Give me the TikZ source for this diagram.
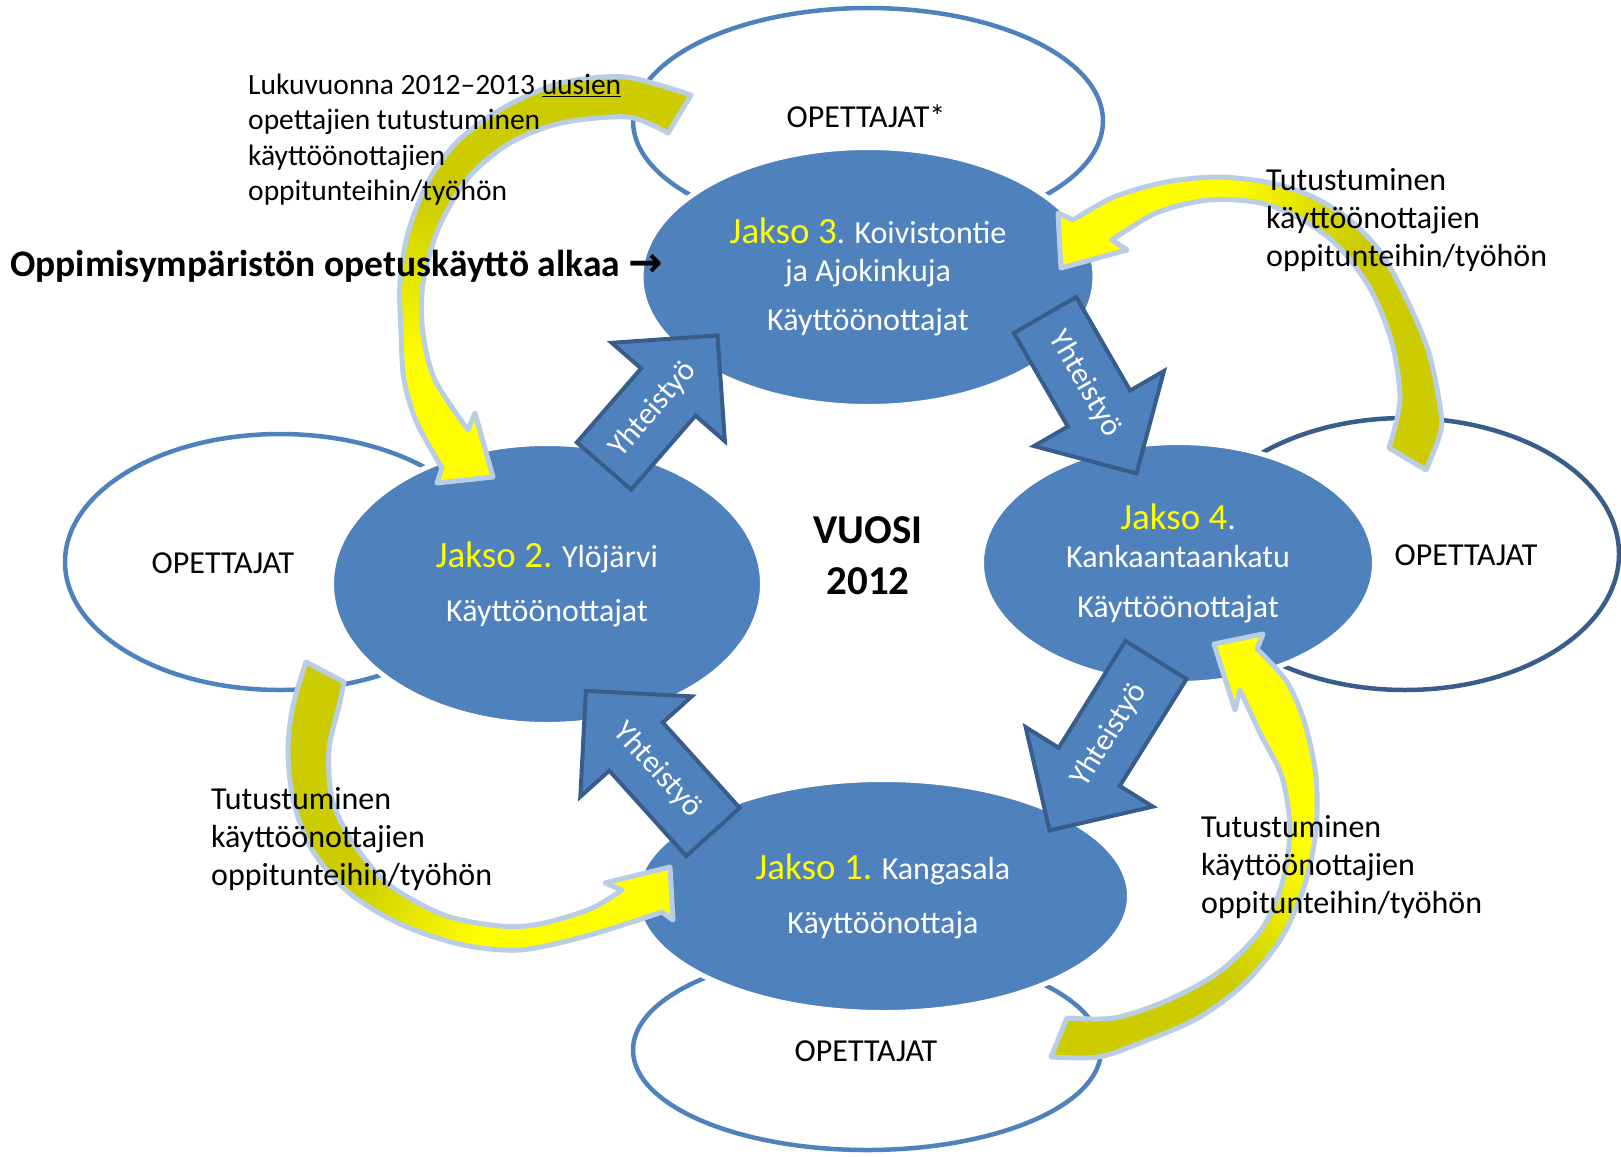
\documentclass[tikz,border=0pt]{standalone}
\usepackage{fontspec}
\setmainfont{Carlito}
\newfontfamily\arrowfont{DejaVu Sans}
\usetikzlibrary{shapes.geometric}

\definecolor{jblue}{HTML}{4F81BD}
\definecolor{coopline}{HTML}{385D8A}
\definecolor{bandolive}{HTML}{CCCC00}
\definecolor{bandyellow}{HTML}{FFFF00}
\definecolor{bandrim}{HTML}{B9CDE5}
\definecolor{jaksoyellow}{HTML}{FFFF00}

\pgfdeclareverticalshading{bandshade}{100bp}{color(0bp)=(bandolive); color(40bp)=(bandolive); color(60bp)=(bandyellow); color(100bp)=(bandyellow)}

\newcommand{\bodysize}{\fontsize{32}{38}\selectfont}
\newcommand{\introsize}{\fontsize{29.5}{35.5}\selectfont}
\newcommand{\jaksosize}{\fontsize{37}{38}\selectfont}
\newcommand{\coopsize}{\fontsize{31}{35}\selectfont}
\newcommand{\yearsize}{\fontsize{41}{51}\selectfont\bfseries}
\newcommand{\jakso}[1]{\textcolor{jaksoyellow}{\jaksosize Jakso #1}}

% block arrow: name, tail point, angle, length, text turn
\newcommand{\coopflow}[5]{%
  \begin{scope}[shift={#2}, rotate=#3]
    \draw[coop] (0,-36) -- ({#4-75},-36) -- ({#4-75},-75) -- (#4,0)
      -- ({#4-75},75) -- ({#4-75},36) -- (0,36) -- cycle;
    \node[cooptext, transform shape, rotate=#5] (#1) at ({#4/2-12},0) {Yhteistyö};
  \end{scope}}

\begin{document}
\begin{tikzpicture}[x=1pt, y=-1pt,
  teacher/.style={ellipse, draw=jblue, line width=4.5pt, fill=white, inner sep=0pt},
  phase/.style={ellipse, fill=jblue, draw=white, line width=5pt, inner sep=0pt,
    text=white, align=center, font=\bodysize},
  coop/.style={fill=jblue, draw=coopline, line width=4pt},
  cooptext/.style={text=white, font=\coopsize, inner sep=0pt},
  band/.style={shading=bandshade, draw=bandrim, line width=5pt, line join=round},
  note/.style={align=left, anchor=west, inner sep=0pt, font=\bodysize}]

  \useasboundingbox (0,0) rectangle (1621,1156);

  % teacher groups
  \node[teacher, minimum width=470pt, minimum height=226pt] (tTop) at (868,121) {};
  \node[teacher, minimum width=430pt, minimum height=256pt] (tLeft) at (280,562) {};
  \node[teacher, draw=coopline, minimum width=428pt, minimum height=272pt] (tRight) at (1405,554) {};
  \node[teacher, minimum width=468pt, minimum height=200pt] (tBottom) at (867,1050) {};

  % phases
  \node[phase, minimum width=454pt, minimum height=259pt] (j3) at (868,277)
    {\jakso{3}. Koivistontie\\ja Ajokinkuja\\[11pt]Käyttöönottajat};
  \node[phase, minimum width=431pt, minimum height=281pt] (j2) at (547,584)
    {\jakso{2.} Ylöjärvi\\[16pt]Käyttöönottajat};
  \node[phase, minimum width=393pt, minimum height=241pt] (j4) at (1178,563)
    {\jakso{4}.\\Kankaantaankatu\\[12pt]Käyttöönottajat};
  \node[phase, minimum width=493pt, minimum height=233pt] (j1) at (883,896)
    {\jakso{1.} Kangasala\\[16pt]Käyttöönottaja};

  % cooperation
  \coopflow{c23}{(604,466)}{49}{173}{0}
  \coopflow{c34}{(1045,315)}{-60}{183}{0}
  \coopflow{c41}{(1156,660)}{-122}{201}{180}
  \coopflow{c12}{(713,832)}{132}{190}{180}

  % visits
  \path[band, shading angle=180]
    plot[smooth] coordinates {(691,95) (625,77) (561,83) (505,107) (459,140) (429,180)
      (408,233) (400,283) (401,333) (404,380) (417,423) (442,468)}
    -- (437,483) -- (493,477) -- (475,413)
    -- plot[smooth] coordinates {(468,430) (435,380) (423,333) (423,283) (439,227)
      (469,177) (510,143) (561,123) (628,117) (668,133)} -- cycle;
  \path[band, shading angle=70]
    plot[smooth] coordinates {(1426,470) (1441,430) (1439,400) (1428,350) (1407,300)
      (1381,253) (1350,220) (1313,197) (1271,183) (1219,177) (1166,182) (1114,197) (1073,220)}
    -- (1058,213) -- (1061,268) -- (1127,250)
    -- plot[smooth] coordinates {(1112,240) (1156,213) (1208,200) (1261,203) (1303,220)
      (1339,247) (1371,290) (1392,343) (1400,400) (1389,448)} -- cycle;
  \path[band, shading angle=-122]
    plot[smooth] coordinates {(306,662) (293,706) (288,749) (293,799) (311,848) (347,891)
      (398,923) (459,944) (520,950) (590,935) (662,912)}
    -- (673,920) -- (670,867) -- (605,883)
    -- plot[smooth] coordinates {(622,890) (590,909) (540,924) (500,926) (444,915)
      (388,884) (352,841) (332,799) (329,749) (339,706) (344,682)} -- cycle;
  \path[band, shading angle=-40]
    plot[smooth] coordinates {(1051,1057) (1098,1057) (1140,1043) (1198,1018) (1245,983)
      (1282,937) (1305,884) (1316,830) (1316,777) (1305,724) (1287,682) (1257,649)}
    -- (1263,634) -- (1214,644) -- (1235,710)
    -- plot[smooth] coordinates {(1240,690) (1261,735) (1282,777) (1290,830) (1282,884)
      (1261,930) (1219,972) (1166,1001) (1114,1018) (1067,1018)} -- cycle;

  % texts
  \node[font=\bodysize] (lTop) at (866,116) {OPETTAJAT*};
  \node[font=\bodysize] (lLeft) at (223,563) {OPETTAJAT};
  \node[font=\bodysize] (lRight) at (1466,555) {OPETTAJAT};
  \node[font=\bodysize] (lBottom) at (866,1051) {OPETTAJAT};
  \node[align=center, font=\yearsize] (year) at (868,556) {VUOSI\\2012};
  \node[note, font=\fontsize{37.5}{44}\selectfont\bfseries] (start) at (10,266)
    {Oppimisympäristön opetuskäyttö alkaa {\arrowfont\fontsize{41}{44}\selectfont →}};
  \node[note, font=\introsize] (introNote) at (248,139.5)
    {Lukuvuonna 2012--2013 \underline{uusien}\\opettajien tutustuminen\\käyttöönottajien\\oppitunteihin/työhön};
  \node[note] (noteNE) at (1266,220.5) {Tutustuminen\\käyttöönottajien\\oppitunteihin/työhön};
  \node[note] (noteSW) at (211,839) {Tutustuminen\\käyttöönottajien\\oppitunteihin/työhön};
  \node[note] (noteSE) at (1201,867) {Tutustuminen\\käyttöönottajien\\oppitunteihin/työhön};

\end{tikzpicture}
\end{document}
